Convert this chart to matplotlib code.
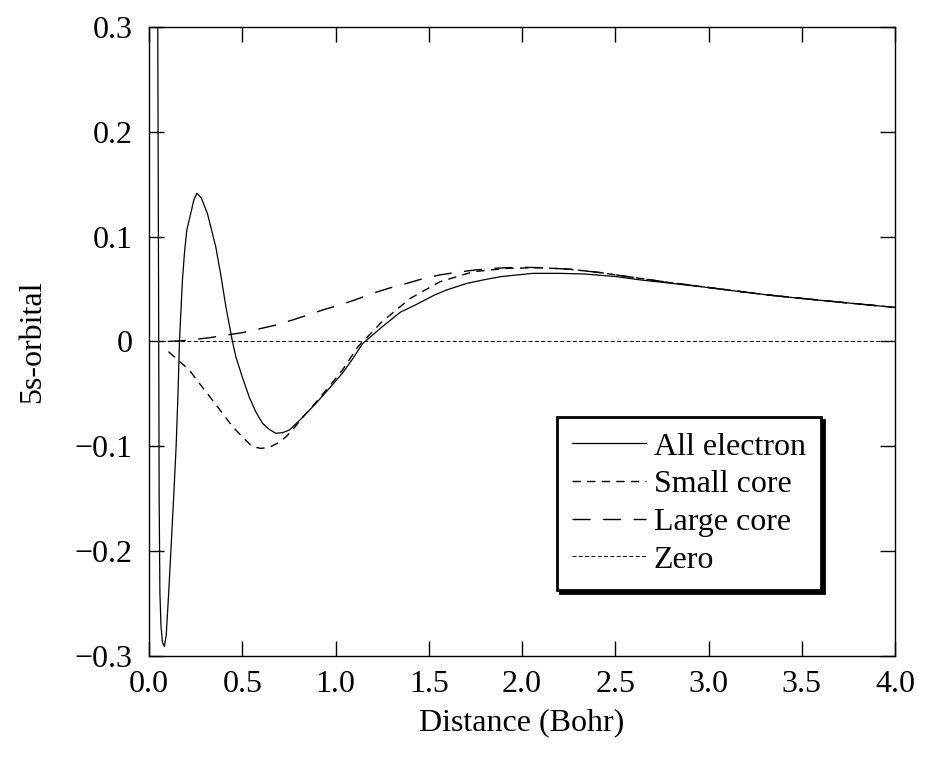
import matplotlib
matplotlib.use("Agg")
import matplotlib.pyplot as plt

plt.rcParams.update({"font.family": "serif", "font.serif": ["Liberation Serif", "DejaVu Serif"],
                     "font.size": 23, "axes.linewidth": 1.0})

# all-electron 5s orbital
ae_x = [0.046, 0.050, 0.054, 0.058, 0.064, 0.072, 0.082, 0.092, 0.105, 0.118, 0.132, 0.145, 0.155,
        0.163, 0.171, 0.179, 0.190, 0.202, 0.224, 0.240, 0.256, 0.280, 0.313, 0.358, 0.385, 0.412,
        0.447, 0.465, 0.500, 0.537, 0.572, 0.608, 0.645, 0.680, 0.715, 0.752, 0.820, 0.895, 0.970,
        1.038, 1.090, 1.145, 1.250, 1.348, 1.430, 1.527, 1.593, 1.706, 1.800, 1.885, 1.974, 2.060,
        2.200, 2.330, 2.500, 2.636, 2.800, 2.958, 3.150, 3.316, 3.500, 3.674, 3.850, 4.000]
ae_y = [0.330, 0.100, -0.150, -0.240, -0.272, -0.287, -0.291, -0.280, -0.240, -0.196, -0.148, -0.100, -0.050,
        0.000, 0.030, 0.059, 0.085, 0.106, 0.1226, 0.135, 0.1414, 0.137, 0.122, 0.090, 0.063, 0.033,
        0.000, -0.0145, -0.034, -0.053, -0.067, -0.078, -0.084, -0.0876, -0.087, -0.0845, -0.073, -0.059, -0.044,
        -0.030, -0.017, -0.002, 0.014, 0.028, 0.035, 0.044, 0.049, 0.0555, 0.059, 0.0618, 0.0635, 0.065,
        0.065, 0.0644, 0.062, 0.0587, 0.0555, 0.0523, 0.048, 0.0444, 0.041, 0.038, 0.035, 0.0325]

# small-core pseudo-orbital
sc_x = [0.104, 0.150, 0.215, 0.270, 0.340, 0.400, 0.447, 0.500, 0.555, 0.600, 0.644, 0.690, 0.734,
        0.780, 0.820, 0.895, 0.970, 1.038, 1.120, 1.250, 1.400, 1.560, 1.740, 1.920, 2.100, 2.250,
        2.420, 2.600, 2.800, 3.000, 3.316, 3.674, 4.000]
sc_y = [-0.0097, -0.017, -0.027, -0.040, -0.056, -0.070, -0.081, -0.091, -0.1004, -0.102, -0.101, -0.097, -0.091,
        -0.082, -0.073, -0.058, -0.042, -0.027, -0.005, 0.019, 0.041, 0.057, 0.0666, 0.0698, 0.0704, 0.069,
        0.0657, 0.061, 0.056, 0.0515, 0.0444, 0.038, 0.0325]

# large-core pseudo-orbital
lc_x = [0.100, 0.200, 0.320, 0.410, 0.500, 0.590, 0.680, 0.760, 0.847, 0.930, 1.025, 1.110, 1.200,
        1.290, 1.384, 1.470, 1.560, 1.650, 1.740, 1.830, 1.920, 2.000, 2.100, 2.250, 2.420, 2.600,
        2.800, 3.000, 3.316, 3.674, 4.000]
lc_y = [0.000, 0.001, 0.0035, 0.006, 0.0084, 0.012, 0.0157, 0.020, 0.025, 0.030, 0.035, 0.040, 0.046,
        0.051, 0.0555, 0.060, 0.0635, 0.066, 0.068, 0.0695, 0.0704, 0.0708, 0.0704, 0.069, 0.0657, 0.061,
        0.056, 0.0515, 0.0444, 0.038, 0.0325]

zero_x = [0.0, 4.0]
zero_y = [0.0, 0.0]

XTICKS = [0.0, 0.5, 1.0, 1.5, 2.0, 2.5, 3.0, 3.5, 4.0]
XLABELS = ["0.0", "0.5", "1.0", "1.5", "2.0", "2.5", "3.0", "3.5", "4.0"]
YTICKS = [-0.3, -0.2, -0.1, 0.0, 0.1, 0.2, 0.3]
YLABELS = ["\u22120.3", "\u22120.2", "\u22120.1", "0", "0.1", "0.2", "0.3"]
NAMES = ["All electron", "Small core", "Large core", "Zero"]

fig = plt.figure(figsize=(9.26, 7.58), dpi=100)
ax = fig.add_axes([0.161, 0.1346, 0.8055, 0.8298])
ax.plot(ae_x, ae_y, color="k", lw=0.9, label=NAMES[0])
ax.plot(sc_x, sc_y, color="k", lw=1.0, dashes=(6, 4.5), label=NAMES[1])
ax.plot(lc_x, lc_y, color="k", lw=1.0, dashes=(13, 9), label=NAMES[2])
ax.plot(zero_x, zero_y, color="k", lw=0.7, dashes=(4, 2.5), label=NAMES[3])

ax.set_xlim(0, 4); ax.set_ylim(-0.3, 0.3)
ax.set_xticks(XTICKS); ax.set_xticklabels(XLABELS)
ax.set_yticks(YTICKS); ax.set_yticklabels(YLABELS)
ax.tick_params(direction="in", top=True, right=True, length=11, width=1.0, labelsize=23)
ax.tick_params(axis="y", pad=12)
ax.tick_params(axis="x", pad=10)
ax.set_xlabel("Distance (Bohr)", fontsize=23, labelpad=7)
ax.set_ylabel("5s-orbital", fontsize=23, labelpad=20)

leg = ax.legend(loc="upper left", bbox_to_anchor=(0.547, 0.38), borderaxespad=0, fancybox=False,
                edgecolor="k", framealpha=1, fontsize=23, handlelength=2.3, handletextpad=0.25,
                labelspacing=0.26, borderpad=0.48, shadow={"color": "k", "alpha": 1})
leg.get_frame().set_linewidth(2.0)

fig.savefig("out.png", dpi=100)
